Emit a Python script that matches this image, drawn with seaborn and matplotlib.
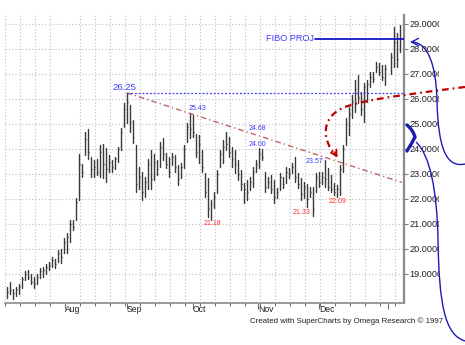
import numpy as np
import pandas as pd
import matplotlib
matplotlib.use("Agg")
import matplotlib.pyplot as plt
from matplotlib.path import Path
from matplotlib.patches import PathPatch, FancyArrowPatch, Rectangle
import seaborn as sns

# ---- daily price bars, July - December 1997 (NaN = holiday gap) ----
high = [
    18.50, 18.70, 18.40, 18.50, 18.60, 18.90, 19.10, 19.15, 19.00, 18.90,
    19.00, 19.25, 19.30, 19.40, 19.50, 19.70, 19.60, 19.95, 20.00, 20.45,
    20.65, 21.15, 21.15, 22.05, 23.80, 23.40, 24.70, 24.80, 23.70, 23.55,
    23.60, 24.15, 24.20, 24.05, 23.75, 23.55, 23.70, 24.10, 24.85, 25.85,
    26.25, 25.75, 25.15, 24.15, 23.30, 23.10, 22.90, 23.60, 23.95, 23.80,
    23.55, 24.30, 24.45, 23.85, 23.70, 23.85, 23.75, 23.35, 23.45, 24.15,
    25.05, 25.43, 25.35, 24.60, 24.56, 23.96, 23.04, 22.84, 21.96, 22.28,
    23.16, 23.96, 24.36, 24.68, 24.48, 24.08, 23.96, 23.56, 23.16, 22.64,
    22.76, 22.88, 23.28, 23.56, 24.04, 24.00, 23.08, 22.90, 22.96, 22.76,
    22.44, 23.04, 22.88, 23.28, 23.24, 23.44, 23.68, 23.06, 22.84, 22.70,
    22.60, 22.48, 22.48, 23.04, 23.08, 23.10, 23.57, 23.24, 22.96, 22.64,
    22.55, 23.36, 24.16, 25.24, 25.68, 26.16, 26.76, 26.96, 26.28, 26.64,
    26.76, 27.08, 27.08, 27.48, 27.44, 27.36, 27.36, np.nan, 27.86, 28.88,
    28.64, 28.96,
]
low = [
    18.05, 18.20, 18.00, 18.10, 18.20, 18.45, 18.75, 18.80, 18.60, 18.45,
    18.60, 18.85, 18.90, 19.00, 19.15, 19.30, 19.25, 19.50, 19.45, 19.85,
    19.85, 20.30, 20.75, 21.15, 21.95, 22.90, 23.75, 23.60, 22.90, 22.90,
    22.95, 22.90, 22.85, 22.70, 23.10, 23.10, 23.20, 23.50, 23.95, 24.90,
    25.05, 24.70, 24.25, 22.30, 22.40, 21.95, 22.10, 22.40, 22.40, 22.75,
    22.95, 23.30, 23.55, 23.25, 22.90, 23.35, 23.10, 22.55, 22.85, 23.25,
    24.30, 24.45, 24.50, 23.68, 23.44, 23.08, 22.08, 21.28, 21.18, 21.64,
    22.24, 23.28, 23.44, 23.96, 23.68, 23.28, 23.04, 22.76, 22.36, 21.84,
    21.96, 22.36, 22.48, 23.08, 23.24, 23.56, 22.28, 22.44, 22.24, 21.84,
    22.04, 22.36, 22.44, 22.64, 22.84, 23.04, 22.68, 22.46, 21.96, 22.04,
    21.70, 22.08, 21.33, 22.28, 22.48, 22.60, 22.50, 22.36, 22.28, 22.16,
    22.09, 22.16, 23.08, 24.16, 24.56, 25.24, 25.48, 25.84, 25.36, 25.08,
    25.88, 26.48, 26.68, 27.08, 26.96, 26.76, 26.56, np.nan, 27.00, 27.30,
    27.28, 27.88,
]
close = [
    18.30, 18.35, 18.25, 18.40, 18.50, 18.80, 19.00, 18.90, 18.70, 18.60,
    18.90, 19.10, 19.15, 19.30, 19.35, 19.55, 19.40, 19.85, 19.70, 20.30,
    20.50, 21.00, 20.90, 21.90, 23.40, 23.10, 24.40, 23.90, 23.20, 23.30,
    23.10, 23.90, 23.40, 23.20, 23.50, 23.30, 23.60, 24.00, 24.70, 25.60,
    25.90, 25.10, 24.50, 22.60, 22.90, 22.30, 22.70, 23.40, 22.80, 23.50,
    23.20, 24.10, 23.80, 23.40, 23.10, 23.70, 23.30, 22.80, 23.30, 24.00,
    24.90, 24.80, 24.70, 23.90, 24.20, 23.30, 22.30, 21.60, 21.80, 22.10,
    23.00, 23.80, 24.10, 24.20, 23.90, 23.60, 23.40, 23.00, 22.60, 22.40,
    22.30, 22.70, 23.10, 23.40, 23.80, 23.70, 22.50, 22.70, 22.40, 22.10,
    22.30, 22.90, 22.60, 23.10, 23.00, 23.30, 22.90, 22.60, 22.20, 22.50,
    22.00, 22.30, 21.60, 22.90, 22.70, 22.90, 22.80, 22.50, 22.40, 22.30,
    22.40, 23.20, 24.00, 25.00, 25.40, 25.90, 26.40, 26.10, 25.60, 26.50,
    26.60, 26.90, 26.80, 27.30, 27.10, 26.90, 27.20, np.nan, 27.70, 28.30,
    27.60, 28.40,
]

month_labels = ["Aug", "Sep", "Oct", "Nov", "Dec", ""]
month_pos = [20.0, 40.7, 62.7, 84.3, 104.8, 127.7]
price_ticks = [19, 20, 21, 22, 23, 24, 25, 26, 27, 28, 29]
fibo_level = 28.40

# bars whose extremes get a value tag: (bar index, which end, colour, text x, text y, size)
tags = [
    (40, "high", "#3c3cff", 39.7, 26.44, 6.8),
    (61, "high", "#3c3cff", 64.3, 25.60, 5.0),
    (73, "high", "#3c3cff", 84.3, 24.80, 5.0),
    (85, "high", "#3c3cff", 84.3, 24.16, 5.0),
    (106, "high", "#3c3cff", 103.0, 23.48, 5.0),
    (68, "low", "#ff3030", 69.3, 21.00, 5.0),
    (102, "low", "#ff3030", 99.0, 21.44, 5.0),
    (110, "low", "#ff3030", 111.0, 21.88, 5.0),
]

W, H = 465, 345

sns.set_style("white")
plt.rcParams["font.family"] = ["Liberation Sans", "DejaVu Sans"]

fig = plt.figure(figsize=(W / 100, H / 100), dpi=100)
ax = fig.add_axes([5 / W, 42 / H, 399 / W, 288 / H])
ax.set_xlim(0, 133)
ax.set_ylim(17.84, 29.36)

# --- price bars drawn as vertical high-low segments, one unit per bar ---
n = len(high)
pos = np.arange(n) + 0.5
bars = pd.DataFrame({"bar": np.arange(n), "pos": pos, "high": high, "low": low, "close": close}).dropna()
long = bars.melt(id_vars=["bar", "pos"], value_vars=["high", "low"], value_name="price")
sns.lineplot(data=long, x="pos", y="price", units="bar", estimator=None, sort=False,
             color="#3a3a3a", lw=1.0, ax=ax, legend=False)
ax.hlines(bars["close"], bars["pos"], bars["pos"] + 0.45, color="#3a3a3a", lw=1.0)
ax.set_xlabel("")
ax.set_ylabel("")

# --- grid ---
ax.set_xticks(month_pos)
ax.set_xticklabels(month_labels, ha="left")
ax.set_xticks(np.arange(0, 131, 5), minor=True)
ax.set_yticks(price_ticks)
ax.set_yticklabels([f"{p:.4f}" for p in price_ticks])
ax.grid(False)
ax.grid(which="minor", axis="x", color="#bdbdbd", lw=0.8, ls=(0, (1, 2)))
ax.grid(which="major", axis="y", color="#bdbdbd", lw=0.8, ls=(0, (1, 2)))
ax.set_axisbelow(True)

ax.yaxis.tick_right()
ax.tick_params(axis="y", which="major", right=True, left=False, length=3, width=0.8,
               color="#808080", pad=1.2, labelsize=6.6, labelcolor="#202020")
ax.tick_params(axis="x", which="major", bottom=True, length=4, width=0.8,
               color="#707070", pad=-2.2, labelsize=6.2, labelcolor="#202020")
ax.tick_params(axis="x", which="minor", bottom=True, length=2.5, width=0.8, color="#707070")

for side in ("top", "left"):
    ax.spines[side].set_visible(False)
ax.spines["right"].set_color("#8a8a8a")
ax.spines["right"].set_linewidth(1.6)
ax.spines["bottom"].set_color("#8a8a8a")
ax.spines["bottom"].set_linewidth(1.2)

# --- resistance line from the 26.25 top through the 25.43 top ---
x0, y0 = pos[40], high[40]
x1, y1 = pos[61], high[61]
slope = (y1 - y0) / (x1 - x0)
x_end = 132.3
ax.plot([x0, x_end], [y0, y0 + slope * (x_end - x0)], color="#c06464", lw=1.0,
        ls=(0, (4, 2.2, 1, 2.2)), zorder=4)

# --- horizontal level at the 26.25 top ---
ax.plot([x0, 133], [y0, y0], color="#3c3cff", lw=0.9, ls=(0, (1.5, 1.5)), zorder=4)

# --- Fibonacci projection target ---
ax.plot([103.3, 133], [fibo_level, fibo_level], color="#1414c8", lw=1.3, zorder=4)
ax.text(102.8, fibo_level, "FIBO PROJ", color="#3c3cff", fontsize=6.6,
        ha="right", va="center", zorder=4)

# --- value tags ---
for k, end, col, tx, ty, fs in tags:
    val = high[k] if end == "high" else low[k]
    ax.text(tx, ty, f"{val:.2f}", color=col, fontsize=fs, ha="center", va="center", zorder=4)

# --- figure-level decorations (pixel coordinates) ---
def fpt(x, y):
    return (x / W, 1 - y / H)

# price labels are cut off at the chart's right margin
fig.add_artist(Rectangle(fpt(439, 300), 26 / W, 290 / H, transform=fig.transFigure,
                         facecolor="white", edgecolor="none", zorder=1))

fig.text(250 / W, 1 - 321 / H, "Created with SuperCharts by Omega Research \u00a9 1997",
         fontsize=5.7, color="#202020", ha="left", va="center")

C4 = Path.CURVE4
C3 = Path.CURVE3
M = Path.MOVETO

# red dash-dot swing curve and its arrowhead
red_pts = [(465, 87), (420, 93), (370, 98), (345, 107), (320, 117), (322, 140), (336, 156)]
red_path = Path([fpt(*p) for p in red_pts], [M, C4, C4, C4, C4, C4, C4])
fig.add_artist(PathPatch(red_path, transform=fig.transFigure, fill=False, edgecolor="#c00000",
                         lw=1.6, ls=(0, (3, 1.8, 0.8, 1.8)), zorder=5))
fig.add_artist(FancyArrowPatch(fpt(333, 150), fpt(339, 160), transform=fig.transFigure,
                               arrowstyle="->,head_length=4,head_width=2.2", color="#c00000",
                               lw=1.4, mutation_scale=1, zorder=5))

# blue curve pointing at the projection
blue1 = [(465, 164), (447, 168), (438, 150), (437, 100), (436, 65), (428, 42), (410, 42)]
fig.add_artist(FancyArrowPatch(path=Path([fpt(*p) for p in blue1], [M, C4, C4, C4, C4, C4, C4]),
                               transform=fig.transFigure, arrowstyle="->,head_length=5,head_width=2.6",
                               color="#1a1ab4", lw=1.0, mutation_scale=1, zorder=5))

# thick bracket on the price scale
brk = [(407, 125), (413, 130), (415, 137), (412, 143), (407, 151)]
fig.add_artist(PathPatch(Path([fpt(*p) for p in brk], [M, C3, C3, C3, C3]), transform=fig.transFigure,
                         fill=False, edgecolor="#1a1ab4", lw=2.4, capstyle="round", zorder=5))

# long blue curve from the bracket down the margin
blue2 = [(416, 142), (430, 155), (437, 190), (438, 240), (439, 305), (445, 335), (465, 341)]
fig.add_artist(PathPatch(Path([fpt(*p) for p in blue2], [M, C4, C4, C4, C4, C4, C4]),
                         transform=fig.transFigure, fill=False, edgecolor="#1a1ab4", lw=1.0, zorder=5))

fig.savefig("out.png", dpi=100)
